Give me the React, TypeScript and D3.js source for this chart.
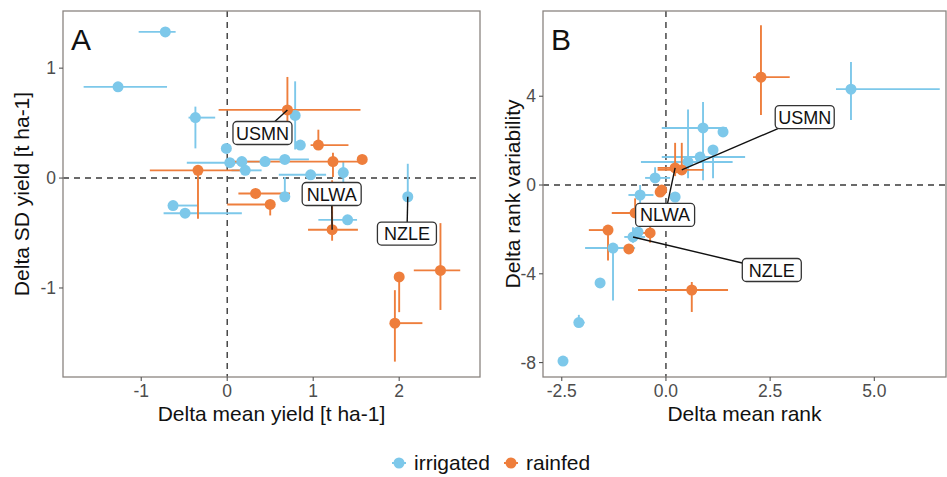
import React from 'react';
import * as d3 from 'd3';

// each row: [x, xLow, xHigh, y, yLow, yHigh]
type Row = [number, number, number, number, number, number];

const yieldIrrigated: Row[] = [
  [-0.72, -1.03, -0.6, 1.33, 1.33, 1.33],
  [-1.27, -1.67, -0.7, 0.83, 0.83, 0.83],
  [-0.37, -0.45, -0.14, 0.55, 0.27, 0.65],
  [-0.01, -0.01, -0.01, 0.27, 0.27, 0.27],
  [0.03, -0.47, 0.15, 0.14, 0.14, 0.14],
  [0.17, 0.0, 0.5, 0.15, 0.12, 0.18],
  [0.21, 0.05, 0.4, 0.07, 0.07, 0.07],
  [0.44, 0.44, 0.44, 0.15, 0.15, 0.2],
  [0.67, 0.4, 0.95, 0.17, 0.17, 0.17],
  [0.79, 0.79, 0.79, 0.57, 0.26, 0.88],
  [0.85, 0.85, 0.85, 0.3, 0.3, 0.3],
  [0.97, 0.6, 1.15, 0.03, 0.03, 0.03],
  [1.35, 1.35, 1.35, 0.05, -0.1, 0.15],
  [0.67, 0.67, 0.67, -0.17, -0.17, 0.01],
  [1.4, 1.06, 1.51, -0.38, -0.38, -0.38],
  [2.1, 2.1, 2.1, -0.17, -0.17, 0.13],
  [-0.63, -0.68, -0.35, -0.25, -0.25, -0.25],
  [-0.49, -0.74, 0.17, -0.32, -0.32, -0.32],
];

const yieldRainfed: Row[] = [
  [0.7, -0.1, 1.55, 0.62, 0.45, 0.92],
  [1.06, 0.97, 1.41, 0.3, 0.3, 0.44],
  [1.23, 0.0, 1.57, 0.15, 0.01, 0.23],
  [1.57, 1.57, 1.57, 0.17, 0.17, 0.17],
  [0.33, 0.13, 0.73, -0.14, -0.14, -0.14],
  [0.5, 0.0, 0.55, -0.24, -0.34, -0.24],
  [1.22, 0.94, 1.52, -0.47, -0.57, -0.02],
  [-0.34, -0.9, 0.15, 0.07, -0.37, 0.07],
  [2.0, 2.0, 2.0, -0.9, -1.22, -0.9],
  [1.95, 1.95, 2.27, -1.32, -1.67, -1.02],
  [2.48, 2.17, 2.71, -0.84, -1.2, -0.41],
];

const rankIrrigated: Row[] = [
  [4.44, 4.08, 6.57, 4.32, 2.93, 5.54],
  [0.89, -0.1, 1.46, 2.57, 0.22, 3.74],
  [1.37, 1.37, 1.37, 2.39, 2.39, 2.39],
  [1.13, 1.13, 1.13, 1.58, 0.3, 1.7],
  [0.82, -0.1, 1.9, 1.26, 1.26, 1.26],
  [0.53, -0.6, 1.6, 1.04, 0.3, 3.4],
  [-0.26, -0.5, 0.1, 0.32, 0.1, 0.8],
  [-0.62, -0.9, -0.3, -0.45, -0.9, 0.0],
  [0.22, 0.22, 0.22, -0.54, -0.54, -0.54],
  [-0.79, -1.0, -0.5, -2.34, -2.6, -1.9],
  [-0.67, -0.67, -0.67, -2.12, -2.12, -2.12],
  [-1.27, -1.94, -0.74, -2.84, -5.2, -2.84],
  [-1.58, -1.58, -1.58, -4.41, -4.41, -4.41],
  [-2.09, -2.09, -1.95, -6.2, -6.2, -5.85],
  [-2.47, -2.47, -2.47, -7.93, -7.93, -7.93],
];

const rankRainfed: Row[] = [
  [2.28, 2.09, 2.97, 4.86, 3.15, 7.2],
  [0.38, -0.2, 0.9, 0.68, 0.5, 1.9],
  [0.22, -0.2, 0.5, 0.77, 0.4, 1.9],
  [-0.1, -0.1, -0.1, -0.23, -0.23, -0.23],
  [-0.14, -0.14, -0.14, -0.32, -0.32, -0.32],
  [-0.74, -1.3, -0.5, -1.26, -1.26, -0.6],
  [-0.38, -0.55, -0.38, -2.16, -2.6, -1.3],
  [-1.39, -1.85, -1.39, -2.03, -3.4, -2.03],
  [-0.89, -0.89, -0.89, -2.88, -2.88, -2.88],
  [0.62, -0.67, 1.49, -4.73, -5.72, -4.37],
];

// labels: name, label centre (data units), labelled point (data units)
const yieldLabels: [string, number, number, number, number][] = [
  ['USMN', 0.41, 0.41, 0.7, 0.62],
  ['NLWA', 1.215, -0.145, 1.22, -0.47],
  ['NZLE', 2.09, -0.505, 2.1, -0.17],
];
const rankLabels: [string, number, number, number, number][] = [
  ['USMN', 3.33, 3.06, 0.38, 0.68],
  ['NLWA', -0.02, -1.35, 0.22, 0.77],
  ['NZLE', 2.54, -3.83, -0.79, -2.34],
];

const yieldTicksX = [-1, 0, 1, 2];
const yieldTicksY = [-1, 0, 1];
const rankTicksX = [-2.5, 0, 2.5, 5];
const rankTicksY = [-8, -4, 0, 4];

const BLUE = '#7dc8ea';
const ORANGE = '#ee7e3c';
const FONT = '"Liberation Sans", Arial, sans-serif';

// ggplot-style labels with an ascii hyphen for negatives
const intFmt = (v: number) => d3.format('d')(v).replace('\u2212', '-');
const oneFmt = (v: number) => d3.format('.1f')(v).replace('\u2212', '-');

type PanelProps = {
  letter: string;
  left: number; right: number; top: number; bottom: number;
  xDomain: [number, number]; yDomain: [number, number];
  xTicks: number[]; yTicks: number[];
  xFmt: (v: number) => string; yFmt: (v: number) => string;
  xTitle: string; yTitle: string; yTitleX: number;
  irrigated: Row[]; rainfed: Row[];
  labels: [string, number, number, number, number][];
};

function Panel(p: PanelProps) {
  const x = d3.scaleLinear().domain(p.xDomain).range([p.left, p.right]);
  const y = d3.scaleLinear().domain(p.yDomain).range([p.bottom, p.top]);

  const bars = (rows: Row[], color: string, key: string) =>
    rows.map((r, i) => (
      <g key={key + i} stroke={color} strokeWidth={1.9}>
        {r[1] !== r[2] && <line x1={x(r[1])} x2={x(r[2])} y1={y(r[3])} y2={y(r[3])} />}
        {r[4] !== r[5] && <line x1={x(r[0])} x2={x(r[0])} y1={y(r[4])} y2={y(r[5])} />}
      </g>
    ));
  const dots = (rows: Row[], color: string, key: string) =>
    rows.map((r, i) => <circle key={key + i} cx={x(r[0])} cy={y(r[3])} r={5.5} fill={color} />);

  return (
    <g fontFamily={FONT}>
      <rect x={p.left} y={p.top} width={p.right - p.left} height={p.bottom - p.top} fill="white" />
      <line x1={x(0)} x2={x(0)} y1={p.top} y2={p.bottom} stroke="#3a3a3a" strokeWidth={1.4} strokeDasharray="6,5" />
      <line x1={p.left} x2={p.right} y1={y(0)} y2={y(0)} stroke="#3a3a3a" strokeWidth={1.4} strokeDasharray="6,5" />
      {bars(p.irrigated, BLUE, 'bi')}
      {bars(p.rainfed, ORANGE, 'br')}
      {dots(p.irrigated, BLUE, 'pi')}
      {dots(p.rainfed, ORANGE, 'pr')}
      {p.labels.map(([name, lx, ly, px, py]) => {
        const cx = x(lx), cy = y(ly);
        const w = 59, h = 23;
        const tx = x(px), ty = y(py);
        // clip segment at box edge
        const dx = tx - cx, dy = ty - cy;
        const s = Math.min(Math.abs(dx) > 0 ? (w / 2) / Math.abs(dx) : Infinity, Math.abs(dy) > 0 ? (h / 2) / Math.abs(dy) : Infinity);
        const sx = cx + dx * s, sy = cy + dy * s;
        return (
          <g key={name}>
            <line x1={sx} y1={sy} x2={tx} y2={ty} stroke="#111" strokeWidth={1.4} />
            <rect x={cx - w / 2} y={cy - h / 2} width={w} height={h} rx={4} fill="white" stroke="#333" strokeWidth={1.3} />
            <text x={cx} y={cy + 6.5} textAnchor="middle" fontSize={18} fill="#111">{name}</text>
          </g>
        );
      })}
      <rect x={p.left} y={p.top} width={p.right - p.left} height={p.bottom - p.top} fill="none" stroke="#8a8480" strokeWidth={1.3} />
      <text x={p.left + 8} y={p.top + 39} fontSize={30} fill="#111">{p.letter}</text>
      {p.xTicks.map(t => (
        <g key={'x' + t}>
          <line x1={x(t)} x2={x(t)} y1={p.bottom} y2={p.bottom + 4} stroke="#555" strokeWidth={1.1} />
          <text x={x(t)} y={p.bottom + 19.5} textAnchor="middle" fontSize={17.5} fill="#4d4d4d">{p.xFmt(t)}</text>
        </g>
      ))}
      {p.yTicks.map(t => (
        <g key={'y' + t}>
          <line x1={p.left - 4} x2={p.left} y1={y(t)} y2={y(t)} stroke="#555" strokeWidth={1.1} />
          <text x={p.left - 7} y={y(t) + 6} textAnchor="end" fontSize={17.5} fill="#4d4d4d">{p.yFmt(t)}</text>
        </g>
      ))}
      <text x={(p.left + p.right) / 2} y={p.bottom + 44} textAnchor="middle" fontSize={21} fill="#111">{p.xTitle}</text>
      <text transform={`translate(${p.yTitleX},${(p.top + p.bottom) / 2}) rotate(-90)`} textAnchor="middle" fontSize={21} fill="#111">{p.yTitle}</text>
    </g>
  );
}

export default function App() {
  return (
    <svg width={947} height={477} style={{ position: 'absolute', left: 0, top: 0, background: 'white' }}>
      <Panel
        letter="A" left={63} right={480} top={11} bottom={377}
        xDomain={[-1.91, 2.94]} yDomain={[-1.81, 1.52]}
        xTicks={yieldTicksX} yTicks={yieldTicksY}
        xFmt={intFmt} yFmt={intFmt}
        xTitle="Delta mean yield [t ha-1]" yTitle="Delta SD yield [t ha-1]" yTitleX={29}
        irrigated={yieldIrrigated} rainfed={yieldRainfed} labels={yieldLabels}
      />
      <Panel
        letter="B" left={543} right={946} top={11} bottom={377}
        xDomain={[-2.95, 6.72]} yDomain={[-8.65, 7.84]}
        xTicks={rankTicksX} yTicks={rankTicksY}
        xFmt={oneFmt} yFmt={intFmt}
        xTitle="Delta mean rank" yTitle="Delta rank variability" yTitleX={520}
        irrigated={rankIrrigated} rainfed={rankRainfed} labels={rankLabels}
      />
      <g fontFamily={FONT} fontSize={21} fill="#111">
        <line x1={392} x2={406} y1={463} y2={463} stroke={BLUE} strokeWidth={2} />
        <circle cx={399} cy={463} r={5.5} fill={BLUE} />
        <text x={414} y={470}>irrigated</text>
        <line x1={504} x2={518} y1={463} y2={463} stroke={ORANGE} strokeWidth={2} />
        <circle cx={511} cy={463} r={5.5} fill={ORANGE} />
        <text x={526} y={470}>rainfed</text>
      </g>
    </svg>
  );
}
